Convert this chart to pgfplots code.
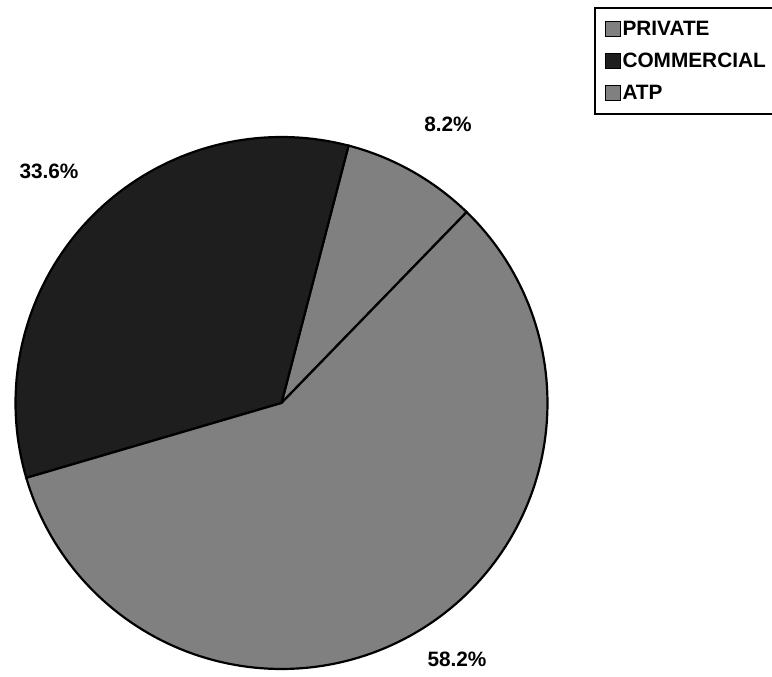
\documentclass[border=0pt]{standalone}
\usepackage{pgfplots}
\pgfplotsset{compat=1.18}
\usepgfplotslibrary{polar}
\usepackage{fontspec}
\setmainfont{Liberation Sans}
\definecolor{pgray}{HTML}{808080}
\definecolor{pdark}{HTML}{1E1E1E}
% shares (percent), clockwise from start angle
\def\vPriv{8.2}
\def\vAtp{58.2}
\def\vComm{33.6}
\def\startang{75.4}
\pgfmathsetmacro\aA{\startang}
\pgfmathsetmacro\aB{\aA-3.6*\vPriv}
\pgfmathsetmacro\aC{\aB-3.6*\vAtp}
\pgfmathsetmacro\aD{\aC-3.6*\vComm}
\newcommand\lfont{\bfseries\fontsize{20.8}{24}\selectfont}
\begin{document}
\begin{tikzpicture}[x=1pt,y=1pt]
\useasboundingbox (0,0) rectangle (772,677);
\begin{polaraxis}[
  at={(281.5pt,274pt)}, anchor=center,
  scale only axis, width=532pt, height=532pt,
  ymin=0, ymax=1,
  hide axis,
  clip=false,
  legend cell align=left,
  legend style={at={(axis description cs:1.0865,1.244)}, anchor=north west,
    draw=black, line width=2pt, font=\lfont,
    inner xsep=10pt, inner ysep=11pt, row sep=12pt},
  legend image code/.code={\draw[#1, line width=1pt] (0pt,-7.5pt) rectangle (15pt,7.5pt);},
]
\addplot[fill=pgray, draw=black, line width=2.2pt, domain=\aB:\aA, samples=40] {1} -- (axis cs:0,0) -- cycle;
\addlegendentry{PRIVATE}
\addplot[fill=pdark, draw=black, line width=2.2pt, domain=\aD:\aC, samples=80] {1} -- (axis cs:0,0) -- cycle;
\addlegendentry{COMMERCIAL}
\addplot[fill=pgray, draw=black, line width=2.2pt, domain=\aC:\aB, samples=140] {1} -- (axis cs:0,0) -- cycle;
\addlegendentry{ATP}
\end{polaraxis}
\node[font=\lfont] at (448,553) {8.2\%};
\node[font=\lfont] at (49,506) {33.6\%};
\node[font=\lfont] at (457,18) {58.2\%};
\end{tikzpicture}
\end{document}
